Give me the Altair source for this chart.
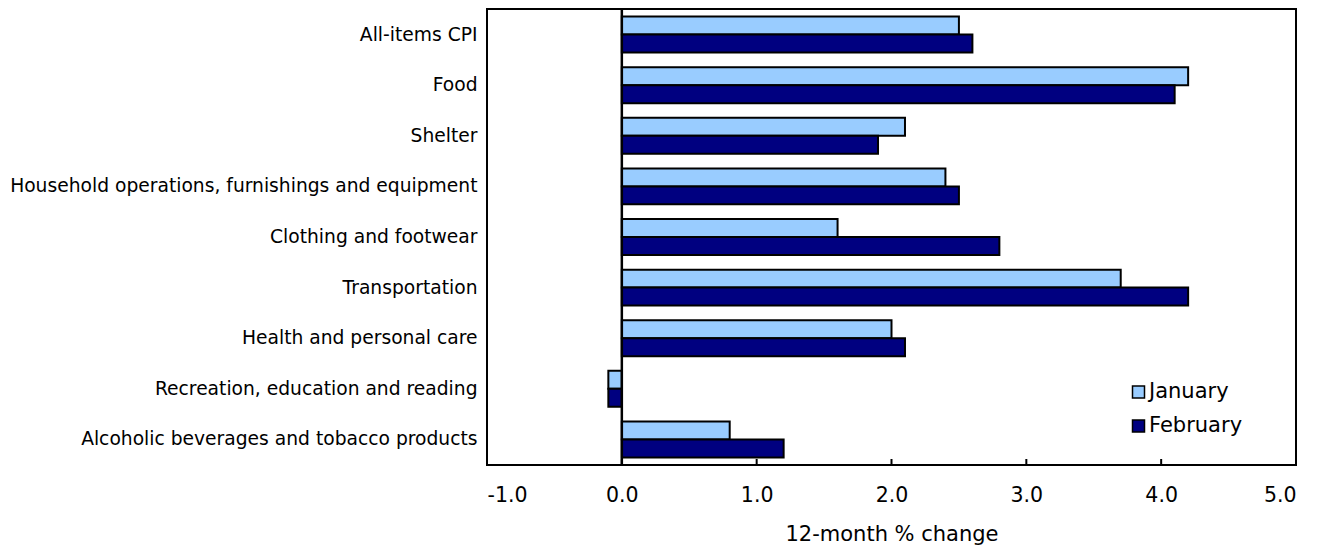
import altair as alt
import pandas as pd

categories = [
    "All-items CPI",
    "Food",
    "Shelter",
    "Household operations, furnishings and equipment",
    "Clothing and footwear",
    "Transportation",
    "Health and personal care",
    "Recreation, education and reading",
    "Alcoholic beverages and tobacco products",
]
january = [2.5, 4.2, 2.1, 2.4, 1.6, 3.7, 2.0, -0.1, 0.8]
february = [2.6, 4.1, 1.9, 2.5, 2.8, 4.2, 2.1, -0.1, 1.2]
series = ["January", "February"]
colors = ["#99CCFF", "#000080"]
x_ticks = [-1.0, 0.0, 1.0, 2.0, 3.0, 4.0, 5.0]

rows = []
for c, j, f in zip(categories, january, february):
    rows.append({"category": c, "series": "January", "value": j})
    rows.append({"category": c, "series": "February", "value": f})
df = pd.DataFrame(rows)

W, H = 809, 456
FONT = "DejaVu Sans"

x_scale = alt.Scale(domain=[-1, 5], nice=False, zero=False)
y_scale = alt.Scale(domain=categories, paddingInner=0.29, paddingOuter=0.15)

x_axis = alt.Axis(
    values=x_ticks,
    labelExpr="replace(format(datum.value, '.1f'), '\u2212', '-')",
    title="12-month % change",
    grid=False, ticks=False, tickSize=0, domain=False,
    labelFontSize=20.5, labelPadding=20, labelColor="black", labelFont=FONT,
    titleFontSize=21, titleFontWeight="normal", titleFont=FONT,
    titleColor="black", titlePadding=18,
)

bars = alt.Chart(df).mark_bar(stroke="black", strokeWidth=2).encode(
    y=alt.Y(
        "category:N",
        sort=categories,
        scale=y_scale,
        axis=alt.Axis(
            title=None, ticks=False, tickSize=0, domain=False,
            labelFontSize=18.7, labelPadding=10, labelColor="black",
            labelFont=FONT, labelLimit=0,
        ),
    ),
    yOffset=alt.YOffset("series:N", sort=series, scale=alt.Scale(domain=series)),
    x=alt.X("value:Q", scale=x_scale, axis=x_axis),
    color=alt.Color(
        "series:N",
        sort=series,
        scale=alt.Scale(domain=series, range=colors),
        legend=alt.Legend(
            orient="none", legendX=641, legendY=372.5, title=None,
            symbolType="square", symbolSize=144, symbolStrokeColor="black",
            symbolStrokeWidth=1.5, symbolOpacity=1,
            labelFontSize=21, labelFont=FONT, labelColor="black",
            rowPadding=12, labelOffset=0, padding=0,
        ),
    ),
)

zero_line = alt.Chart(pd.DataFrame({"value": [0.0]})).mark_rule(
    color="black", strokeWidth=2.5
).encode(x=alt.X("value:Q", scale=x_scale, axis=x_axis))

tick_marks = alt.Chart(pd.DataFrame({"value": x_ticks})).mark_rule(
    color="black", strokeWidth=2
).encode(
    x=alt.X("value:Q", scale=x_scale, axis=x_axis),
    y=alt.value(H - 6),
    y2=alt.value(H),
)

chart = (
    alt.layer(bars, zero_line, tick_marks)
    .properties(
        width=W,
        height=H,
        autosize=alt.AutoSizeParams(type="none"),
        padding={"left": 479, "top": 1, "right": 22, "bottom": 81},
    )
    .configure_view(stroke="black", strokeWidth=2)
)

chart.save("out.html", embed_options={"renderer": "svg", "actions": False})
